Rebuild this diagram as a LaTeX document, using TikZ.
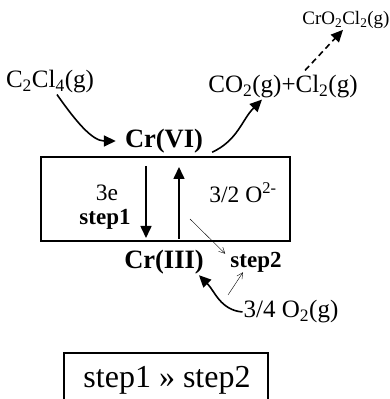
\documentclass[tikz,border=0pt]{standalone}
\usepackage{fontspec}
\setmainfont{Liberation Serif}
\usetikzlibrary{arrows.meta}

\tikzset{
  chem/.style={inner sep=1pt,font=\fontsize{25}{28}\selectfont},
  small/.style={inner sep=1pt,font=\fontsize{19}{22}\selectfont},
  ox/.style={inner sep=1pt,font=\fontsize{26.5}{30}\selectfont\bfseries},
  boxlbl/.style={inner sep=0pt,font=\fontsize{23.5}{26}\selectfont},
  boldlbl/.style={inner sep=0pt,font=\fontsize{23}{26}\selectfont\bfseries},
  flow/.style={line width=1.6pt,-{Triangle[length=12pt,width=11pt]}},
  weak/.style={line width=0.4pt,-{Straight Barb[length=6pt,width=6pt]}}
}

\begin{document}
\begin{tikzpicture}[x=1pt,y=1pt]
\useasboundingbox (0,0) rectangle (390,399);
% species
\node[chem] (c2cl4) at (50,317) {C\textsubscript{2}Cl\textsubscript{4}(g)};
\node[chem] (co2) at (283,312) {CO\textsubscript{2}(g)+Cl\textsubscript{2}(g)};
\node[small] (cro2cl2) at (346,379) {CrO\textsubscript{2}Cl\textsubscript{2}(g)};
\node[ox] (crvi) at (164,258) {Cr(VI)};
\node[ox] (criii) at (164,137) {Cr(III)};
\node[boldlbl] (step2) at (256,137) {step2};
\node[chem] (o2) at (291,87) {3/4 O\textsubscript{2}(g)};
% redox cycle box
\draw[line width=1.6pt] (41,158) rectangle (290,242);
\coordinate (dtop) at (146,233);
\coordinate (dbot) at (146,161);
\coordinate (ubot) at (179,160);
\coordinate (utop) at (179,232);
\draw[flow] (dtop) -- (dbot);
\draw[flow] (ubot) -- (utop);
\node[boxlbl] (elec) at (107,206) {3e};
\node[boldlbl] (step1) at (105,180) {step1};
\node[boxlbl] (oxide) at (243,206) {3/2 O\textsuperscript{2-}};
% arrows
\draw[flow,shorten >=8pt] ([xshift=7pt]c2cl4.south) to[out=-55,in=180] (crvi.west);
\draw[flow] ([xshift=8pt,yshift=2pt]crvi.south east) to[out=25,in=-135] ([xshift=-21pt]co2.south);
\draw[flow,dashed,dash pattern=on 6pt off 4pt] ([xshift=22pt,yshift=4pt]co2.north) -- ([xshift=-3pt]cro2cl2.south);
\draw[flow] (o2.west) to[out=175,in=-45] ([xshift=-6pt]criii.south east);
\coordinate (w1) at (190,180);
\coordinate (w2) at (228,104);
\draw[weak] (w1) -- ([xshift=-5pt,yshift=-2pt]step2.north west);
\draw[weak] (w2) -- ([xshift=-13pt]step2.south);
% comparison
\draw[line width=1.2pt] (64,-20) rectangle (268,46);
\node[font=\fontsize{32}{36}\selectfont] (cmp) at (167,19) {step1 \guillemotright{} step2};
\end{tikzpicture}
\end{document}
